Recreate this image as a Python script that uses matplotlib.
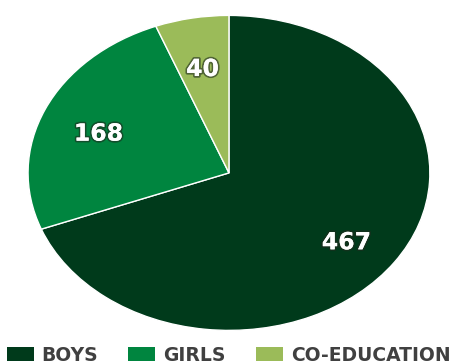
import matplotlib.pyplot as plt
import matplotlib.patheffects as pe
from matplotlib.patches import Patch
from matplotlib.transforms import offset_copy

categorias = ['BOYS', 'GIRLS', 'CO-EDUCATION']
valores = [467, 168, 40]
colores = ['#003a1b', '#00853f', '#9bbb59']

total = sum(valores)

fig = plt.figure(figsize=(4.57, 3.64), dpi=100)
ax = fig.add_axes([0.057, 0.088, 0.888, 0.874])

wedges, textos, autotextos = ax.pie(
    valores, colors=colores, startangle=90, counterclock=False,
    autopct=lambda p: '%d' % round(p * total / 100), pctdistance=0.71,
    wedgeprops=dict(edgecolor='white', linewidth=1.0))

for t in autotextos:
    t.set_color('white')
    t.set_fontsize(17)
    t.set_fontweight('bold')
    t.set_transform(offset_copy(ax.transData, fig=fig, x=0, y=-6, units='dots'))
    t.set_path_effects([pe.withStroke(linewidth=2.5, foreground='#1e2b1e', alpha=0.6),
                        pe.Normal()])

ax.set_aspect('auto')
ax.set_xlim(-1.01, 1.01)
ax.set_ylim(-1.01, 1.01)

handles = [Patch(facecolor=c, edgecolor='none') for c in colores]
leg = fig.legend(handles, categorias, loc='center', bbox_to_anchor=(0.5, 0.024),
                 ncol=3, frameon=False, handlelength=1.45, handleheight=0.75,
                 handletextpad=0.42, columnspacing=1.6,
                 prop=dict(size=13.5, weight='bold'))
for t in leg.get_texts():
    t.set_color('#404040')

fig.savefig('out.png', dpi=100)
